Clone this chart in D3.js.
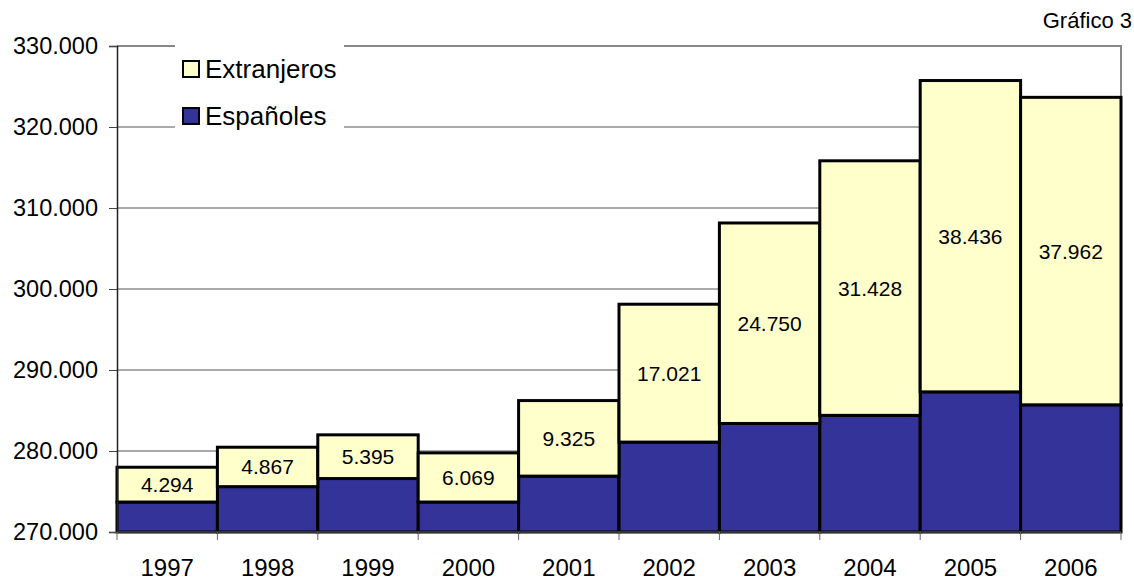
<!DOCTYPE html>
<html>
<head>
<meta charset="utf-8">
<script src="https://cdn.jsdelivr.net/npm/d3@7"></script>
<style>
  body { margin: 0; background: #fff; }
  text { font-family: "Liberation Sans", Arial, sans-serif; fill: #000; }
</style>
</head>
<body>
<svg id="chart" width="1134" height="581"></svg>
<script>
let years = ['1997', '1998', '1999', '2000', '2001', '2002', '2003', '2004', '2005', '2006']
let espanoles = [273700, 275600, 276600, 273700, 276900, 281100, 283400, 284400, 287300, 285700]
let extranjeros = [4294, 4867, 5395, 6069, 9325, 17021, 24750, 31428, 38436, 37962]
let yTicks = [270000, 280000, 290000, 300000, 310000, 320000, 330000]
let seriesNames = ['Extranjeros', 'Españoles']

let locale = d3.formatLocale({ decimal: ',', thousands: '.', grouping: [3], currency: ['', ''] })
let fmt = locale.format(',d')

let svg = d3.select('#chart')

let plotLeft = 117, plotRight = 1121, plotTop = 46, plotBottom = 532

let x = d3.scaleBand().domain(years).range([plotLeft, plotRight]).padding(0)
let y = d3.scaleLinear().domain([270000, 330000]).range([plotBottom, plotTop])

// gridlines
svg.append('g')
  .selectAll('line')
  .data(yTicks.slice(1, -1))
  .enter()
  .append('line')
  .attr('x1', plotLeft).attr('x2', plotRight)
  .attr('y1', d => y(d)).attr('y2', d => y(d))
  .attr('stroke', '#555')
  .attr('stroke-width', 1)

// frame top + right
svg.append('path')
  .attr('d', `M${plotLeft},${y(330000)}H${plotRight}V${plotBottom}`)
  .attr('fill', 'none')
  .attr('stroke', '#888')
  .attr('stroke-width', 2)

// legend background covering grid
let legend = svg.append('g')
legend.append('rect')
  .attr('x', 175).attr('y', 38)
  .attr('width', 169).attr('height', 96)
  .attr('fill', '#fff')

let legendColors = ['#FFFFCC', '#333399']
seriesNames.forEach((name, i) => {
  legend.append('rect')
    .attr('x', 183).attr('y', 61 + i * 47)
    .attr('width', 16).attr('height', 16)
    .attr('fill', legendColors[i])
    .attr('stroke', '#000')
    .attr('stroke-width', 2)
  legend.append('text')
    .attr('x', 205).attr('y', 78 + i * 47)
    .attr('font-size', '26px')
    .text(name)
})

// bars
let rows = years.map((yr, i) => ({ year: yr, esp: espanoles[i], ext: extranjeros[i] }))

let bars = svg.append('g')
bars.selectAll('rect.esp')
  .data(rows)
  .enter()
  .append('rect')
  .attr('class', 'esp')
  .attr('x', d => x(d.year))
  .attr('width', x.bandwidth())
  .attr('y', d => y(d.esp))
  .attr('height', d => y(270000) - y(d.esp))
  .attr('fill', '#333399')
  .attr('stroke', '#000')
  .attr('stroke-width', 3)

bars.selectAll('rect.ext')
  .data(rows)
  .enter()
  .append('rect')
  .attr('class', 'ext')
  .attr('x', d => x(d.year))
  .attr('width', x.bandwidth())
  .attr('y', d => y(d.esp + d.ext))
  .attr('height', d => y(d.esp) - y(d.esp + d.ext))
  .attr('fill', '#FFFFCC')
  .attr('stroke', '#000')
  .attr('stroke-width', 3)

bars.selectAll('text')
  .data(rows)
  .enter()
  .append('text')
  .attr('x', d => x(d.year) + x.bandwidth() / 2)
  .attr('y', d => (y(d.esp) + y(d.esp + d.ext)) / 2)
  .attr('dy', '0.36em')
  .attr('text-anchor', 'middle')
  .attr('font-size', '21px')
  .text(d => fmt(d.ext))

// y axis
let yAxis = svg.append('g')
  .attr('transform', `translate(${plotLeft},0)`)
  .call(d3.axisLeft(y).tickValues(yTicks).tickFormat(fmt).tickSize(8).tickPadding(11))
yAxis.select('.domain').attr('stroke', '#222').attr('stroke-width', 1.5)
yAxis.selectAll('.tick line').attr('stroke', '#444')
yAxis.selectAll('.tick text').attr('font-size', '23.5px').attr('font-family', '"Liberation Sans", Arial, sans-serif').attr('fill', '#000')

// x axis
let xAxis = svg.append('g')
  .attr('transform', `translate(0,${plotBottom})`)
xAxis.append('line')
  .attr('x1', plotLeft).attr('x2', plotRight)
  .attr('stroke', '#444').attr('stroke-width', 1.5)
xAxis.selectAll('line.tk')
  .data(years.concat(['end']))
  .enter()
  .append('line')
  .attr('class', 'tk')
  .attr('x1', (d, i) => i < years.length ? x(d) : plotRight)
  .attr('x2', (d, i) => i < years.length ? x(d) : plotRight)
  .attr('y1', 0).attr('y2', 8)
  .attr('stroke', '#666')
xAxis.selectAll('text')
  .data(years)
  .enter()
  .append('text')
  .attr('x', d => x(d) + x.bandwidth() / 2)
  .attr('y', 44)
  .attr('text-anchor', 'middle')
  .attr('font-size', '24px')
  .text(d => d)

svg.append('text')
  .attr('x', 1132).attr('y', 28)
  .attr('text-anchor', 'end')
  .attr('font-size', '22px')
  .text('Gráfico 3')
</script>
</body>
</html>
